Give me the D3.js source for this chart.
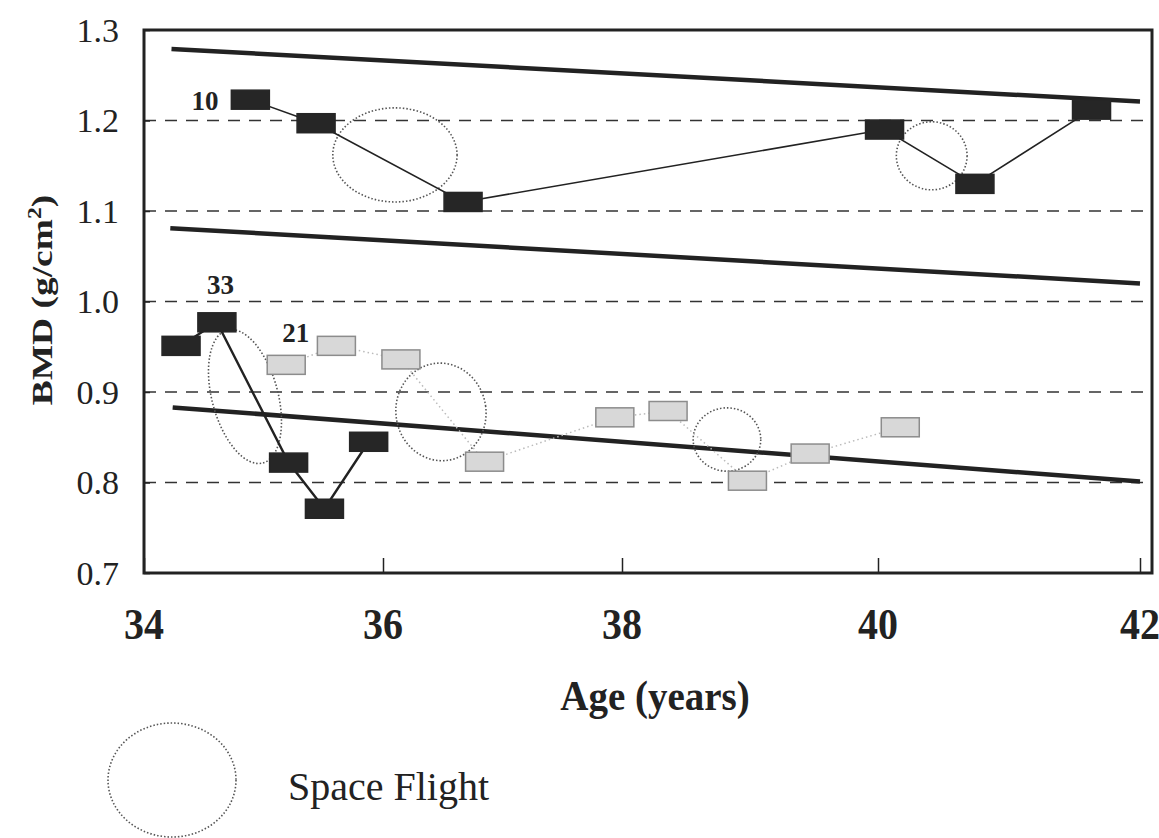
<!DOCTYPE html>
<html>
<head>
<meta charset="utf-8">
<script src="https://cdn.jsdelivr.net/npm/d3@7"></script>
<style>
  body { margin: 0; background: #fff; }
  text { font-family: "Liberation Serif", "Times New Roman", serif; fill: #222; }
</style>
</head>
<body>
<svg id="chart" width="1159" height="838"></svg>
<script>
// subject 10 (black)
const s10Age = [34.89, 35.44, 36.67, 40.05, 40.74, 41.63];
const s10Bmd = [1.223, 1.197, 1.110, 1.190, 1.130, 1.212];
// subject 33 (black)
const s33Age = [34.31, 34.61, 35.21, 35.51, 35.88];
const s33Bmd = [0.951, 0.977, 0.822, 0.771, 0.845];
// subject 21 (grey)
const s21Age = [35.19, 35.61, 36.15, 36.85, 37.94, 38.36, 38.98, 39.47, 40.17];
const s21Bmd = [0.930, 0.951, 0.936, 0.823, 0.872, 0.879, 0.802, 0.832, 0.861];

// reference lines: [age0, bmd0, age1, bmd1]
const refLines = [
  [34.23, 1.279, 42.0, 1.221],
  [34.22, 1.081, 42.0, 1.020],
  [34.24, 0.883, 42.0, 0.801]
];

// space flight ellipses: centre age, centre bmd, half-width (yr), half-height (g/cm2), tilt
const flightAge = [36.10, 40.41, 34.845, 36.485, 38.82];
const flightBmd = [1.162, 1.161, 0.895, 0.878, 0.8475];
const flightRx = [0.52, 0.27, 0.276, 0.377, 0.264];
const flightRy = [0.052, 0.0376, 0.076, 0.054, 0.035];
const flightTilt = [0, 0, -15, -8, 0];

const xTicks = [34, 36, 38, 40, 42];
const yTicks = [0.7, 0.8, 0.9, 1.0, 1.1, 1.2, 1.3];
const gridVals = [0.8, 0.9, 1.0, 1.1, 1.2];

const subjLabels = [
  { text: "10", age: 34.51, bmd: 1.222 },
  { text: "33", age: 34.64, bmd: 1.019 },
  { text: "21", age: 35.27, bmd: 0.966 }
];

const m = { left: 144, right: 1152, top: 30, bottom: 573 };

const svg = d3.select("#chart");

// the printed age axis is not evenly spaced, so map each tick to where it sits
const x = d3.scaleLinear().domain(xTicks).range([m.left, 383, 622, 878, 1140]);
const y = d3.scaleLinear().domain([0.7, 1.3]).range([m.bottom, m.top]);

// dashed grid
svg.selectAll(".grid")
  .data(gridVals)
  .enter()
  .append("line")
  .attr("x1", m.left).attr("x2", m.right)
  .attr("y1", d => y(d)).attr("y2", d => y(d))
  .attr("stroke", "#333")
  .attr("stroke-width", 1.5)
  .attr("stroke-dasharray", "12,9");

// y axis ticks (inside) + labels
svg.append("g")
  .attr("transform", `translate(${m.left},0)`)
  .call(d3.axisRight(y).tickValues(yTicks).tickSize(6).tickFormat(""))
  .call(g => g.select(".domain").remove())
  .selectAll("line").attr("stroke", "#222").attr("stroke-width", 1.5);

svg.selectAll(".ylab")
  .data(yTicks)
  .enter()
  .append("text")
  .attr("x", 119)
  .attr("y", d => y(d))
  .attr("dy", "0.35em")
  .attr("text-anchor", "end")
  .style("font-size", "34px")
  .text(d => d.toFixed(1));

// x axis ticks (inside) + labels
svg.append("g")
  .attr("transform", `translate(0,${m.bottom})`)
  .call(d3.axisTop(x).tickValues(xTicks).tickSize(15).tickFormat(""))
  .call(g => g.select(".domain").remove())
  .selectAll("line").attr("stroke", "#222").attr("stroke-width", 1.5);

svg.selectAll(".xlab")
  .data(xTicks)
  .enter()
  .append("text")
  .attr("transform", d => `translate(${x(d)},639) scale(1,1.12)`)
  .attr("text-anchor", "middle")
  .style("font-size", "40px")
  .style("font-weight", "bold")
  .text(d => d);

// plot frame
svg.append("rect")
  .attr("x", m.left).attr("y", m.top)
  .attr("width", m.right - m.left).attr("height", m.bottom - m.top)
  .attr("fill", "none")
  .attr("stroke", "#222")
  .attr("stroke-width", 3);

// reference lines
svg.selectAll(".ref")
  .data(refLines)
  .enter()
  .append("line")
  .attr("x1", d => x(d[0])).attr("y1", d => y(d[1]))
  .attr("x2", d => x(d[2])).attr("y2", d => y(d[3]))
  .attr("stroke", "#222")
  .attr("stroke-width", 4.5);

// space flight ellipses
svg.selectAll(".flight")
  .data(flightAge)
  .enter()
  .append("ellipse")
  .attr("transform", (d, i) => `translate(${x(d)},${y(flightBmd[i])}) rotate(${flightTilt[i]})`)
  .attr("rx", (d, i) => (x(d + flightRx[i]) - x(d - flightRx[i])) / 2)
  .attr("ry", (d, i) => y(0.7) - y(0.7 + flightRy[i]))
  .attr("fill", "none")
  .attr("stroke", "#555")
  .attr("stroke-width", 1.6)
  .attr("stroke-dasharray", "1.5,2");

const line = d3.line().x(d => x(d[0])).y(d => y(d[1]));
const s10 = s10Age.map((a, i) => [a, s10Bmd[i]]);
const s33 = s33Age.map((a, i) => [a, s33Bmd[i]]);
const s21 = s21Age.map((a, i) => [a, s21Bmd[i]]);

svg.append("path").datum(s21).attr("d", line)
  .attr("fill", "none").attr("stroke", "#bbb")
  .attr("stroke-width", 1.5).attr("stroke-dasharray", "1.5,3");
svg.append("path").datum(s10).attr("d", line)
  .attr("fill", "none").attr("stroke", "#222").attr("stroke-width", 1.6);
svg.append("path").datum(s33).attr("d", line)
  .attr("fill", "none").attr("stroke", "#222").attr("stroke-width", 2.4);

const mw = 38, mh = 19;
function markers(data, fill, stroke) {
  svg.append("g").selectAll("rect")
    .data(data)
    .enter()
    .append("rect")
    .attr("x", d => x(d[0]) - mw / 2)
    .attr("y", d => y(d[1]) - mh / 2)
    .attr("width", mw).attr("height", mh)
    .attr("fill", fill)
    .attr("stroke", stroke)
    .attr("stroke-width", 1.5);
}
markers(s21, "#d8d8d8", "#8c8c8c");
markers(s10, "#262626", "#262626");
markers(s33, "#262626", "#262626");

// subject numbers
svg.selectAll(".subj")
  .data(subjLabels)
  .enter()
  .append("text")
  .attr("x", d => x(d.age))
  .attr("y", d => y(d.bmd))
  .attr("dy", "0.35em")
  .attr("text-anchor", "middle")
  .style("font-size", "27px")
  .style("font-weight", "bold")
  .text(d => d.text);

// axis titles
svg.append("text")
  .attr("transform", "translate(655,710) scale(1,1.1)")
  .attr("text-anchor", "middle")
  .style("font-size", "39px")
  .style("font-weight", "bold")
  .text("Age (years)");

const yt = svg.append("text")
  .attr("transform", "translate(52,300) scale(1,1.25) rotate(-90)")
  .attr("text-anchor", "middle")
  .style("font-size", "30px")
  .style("font-weight", "bold");
yt.append("tspan").text("BMD (g/cm");
yt.append("tspan").attr("dy", "-11").style("font-size", "19px").text("2");
yt.append("tspan").attr("dy", "11").text(")");

// legend
svg.append("ellipse")
  .attr("cx", 172).attr("cy", 780)
  .attr("rx", 64).attr("ry", 57)
  .attr("fill", "none")
  .attr("stroke", "#555")
  .attr("stroke-width", 1.6)
  .attr("stroke-dasharray", "1.5,2");

svg.append("text")
  .attr("x", 288).attr("y", 800)
  .style("font-size", "40px")
  .text("Space Flight");
</script>
</body>
</html>
